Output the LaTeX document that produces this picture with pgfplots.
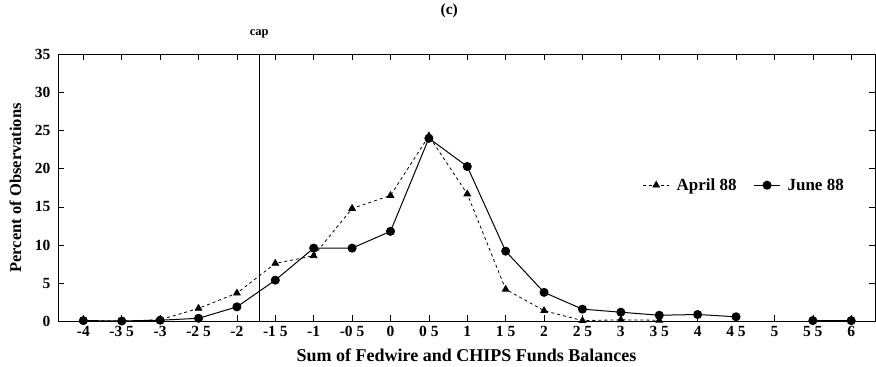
\documentclass[border=0pt]{standalone}
\usepackage{fontspec}
\setmainfont{Liberation Serif}
\usepackage{pgfplots}
\pgfplotsset{compat=1.18}
\begin{document}
\begin{tikzpicture}
\begin{axis}[
  scale only axis,
  width=817pt, height=267pt,
  xmin=-4.33, xmax=6.31,
  ymin=0, ymax=35,
  ytick={0,5,...,35},
  xtick={-4,-3.5,...,6},
  xticklabels={-4,-3 5,-3,-2 5,-2,-1 5,-1,-0 5,0,0 5,1,1 5,2,2 5,3,3 5,4,4 5,5,5 5,6},
  tick align=inside,
  major tick length=6pt,
  axis line style={line width=0.7pt},
  tick style={line width=0.6pt, black},
  /pgf/number format/assume math mode=true,
  tick label style={font=\fontsize{15.5}{18}\selectfont\bfseries},
  xticklabel style={yshift=-1pt},
  yticklabel style={xshift=-4pt},
  xlabel={Sum of Fedwire and CHIPS Funds Balances},
  ylabel={Percent of Observations},
  xlabel style={font=\fontsize{18}{20}\selectfont\bfseries, at={(axis description cs:0.5,-0.127)}, anchor=center},
  ylabel style={font=\fontsize{16.5}{19}\selectfont\bfseries, at={(axis description cs:-0.052,0.5)}, anchor=center},
  unbounded coords=jump,
  legend columns=2,
  legend image code/.code={\draw[mark repeat=2, mark phase=2] plot coordinates {(0pt,0pt) (13pt,0pt) (26pt,0pt)};},
  legend style={draw=none, fill=none, at={(0.84,0.51)}, anchor=center,
    font=\fontsize{17}{19}\selectfont\bfseries,
    /tikz/every odd column/.append style={column sep=5pt},
    /tikz/every even column/.append style={column sep=15pt}},
  clip=false,
]
\addplot[black, dashed, line width=0.8pt, mark=triangle*, mark size=3.8pt, mark options={solid}] coordinates {
(-4,0.1) (-3.5,0.05) (-3,0.2) (-2.5,1.7) (-2,3.7) (-1.5,7.6) (-1,8.6) (-0.5,14.8) (0,16.5) (0.5,24.3) (1,16.7) (1.5,4.2) (2,1.4) (2.5,0.1) (3,0.2) (3.5,0.15)
};
\addlegendentry{April 88}
\addplot[black, solid, line width=1pt, mark=*, mark size=4pt] coordinates {
(-4,0.1) (-3.5,0.05) (-3,0.15) (-2.5,0.4) (-2,1.9) (-1.5,5.4) (-1,9.6) (-0.5,9.6) (0,11.8) (0.5,24.0) (1,20.3) (1.5,9.2) (2,3.8) (2.5,1.6) (3,1.2) (3.5,0.8) (4,0.9) (4.5,0.6) (5,nan) (5.5,0.1) (6,0.1)
};
\addlegendentry{June 88}
\addplot[black, line width=0.6pt, forget plot] coordinates {(-1.71,0) (-1.71,35)};
\node[font=\fontsize{12.5}{14}\selectfont\bfseries, anchor=center] at (axis cs:-1.71,35) [yshift=20pt] {cap};
\node[font=\fontsize{15.5}{18}\selectfont\bfseries, anchor=center] at (axis cs:0.766,35) [yshift=44pt] {(c)};
\end{axis}
\useasboundingbox ([xshift=-58pt,yshift=-45pt]current axis.south west) rectangle ([xshift=1pt,yshift=51pt]current axis.north east);
\end{tikzpicture}
\end{document}
